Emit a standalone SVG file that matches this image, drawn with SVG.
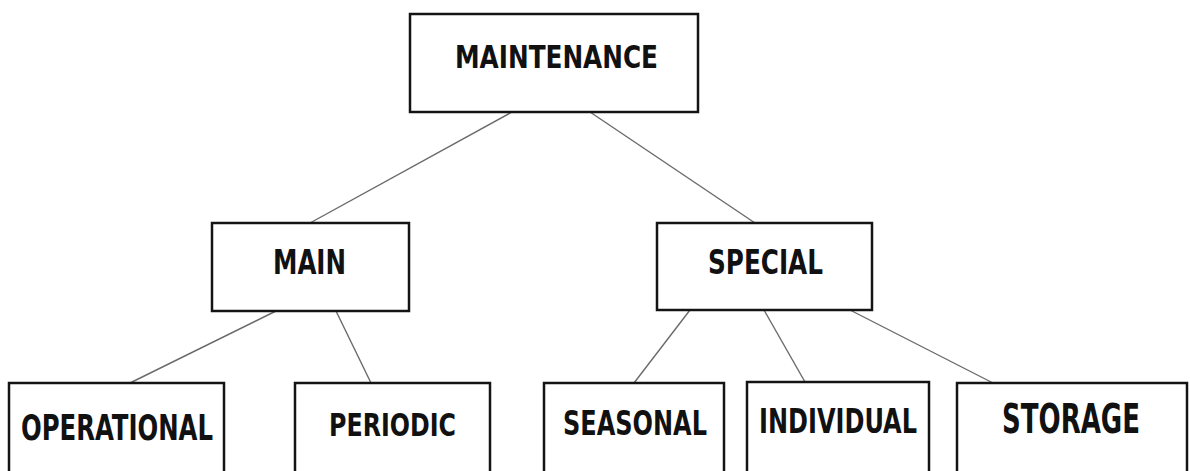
<svg xmlns="http://www.w3.org/2000/svg" width="1190" height="471" viewBox="0 0 1190 471">
  <style>
    .box { fill: #ffffff; stroke: #141414; stroke-width: 2.5; }
    .lbl { font-family: "Liberation Sans Narrow", "DejaVu Sans Condensed", "Liberation Sans", sans-serif; font-weight: bold; fill: #111111; text-anchor: middle; }
    .link { stroke: #6a6a6a; stroke-width: 1.4; fill: none; }
  </style>
  <rect width="1190" height="471" fill="#ffffff"/>

  <!-- connectors -->
  <g id="connectors">
    <line class="link" x1="512" y1="112" x2="310" y2="223"/>
    <line class="link" x1="590" y1="112" x2="755" y2="223"/>
    <line class="link" x1="276" y1="311" x2="130" y2="383"/>
    <line class="link" x1="336" y1="311" x2="371" y2="383"/>
    <line class="link" x1="690" y1="310" x2="634" y2="383"/>
    <line class="link" x1="764" y1="310" x2="805" y2="382"/>
    <line class="link" x1="850" y1="310" x2="993" y2="383"/>
  </g>

  <!-- top level -->
  <g id="maintenance">
    <rect class="box" x="410" y="14" width="288" height="98"/>
    <text class="lbl" x="556.5" y="68" font-size="32" textLength="203" lengthAdjust="spacingAndGlyphs">MAINTENANCE</text>
  </g>

  <!-- second level -->
  <g id="main">
    <rect class="box" x="212" y="223" width="197" height="88"/>
    <text class="lbl" x="309.5" y="274" font-size="34" textLength="73" lengthAdjust="spacingAndGlyphs">MAIN</text>
  </g>
  <g id="special">
    <rect class="box" x="657" y="223" width="215" height="87"/>
    <text class="lbl" x="765.5" y="274" font-size="34" textLength="115" lengthAdjust="spacingAndGlyphs">SPECIAL</text>
  </g>

  <!-- third level -->
  <g id="operational">
    <rect class="box" x="9" y="383" width="215" height="100"/>
    <text class="lbl" x="117" y="440" font-size="36" textLength="192" lengthAdjust="spacingAndGlyphs">OPERATIONAL</text>
  </g>
  <g id="periodic">
    <rect class="box" x="295" y="383" width="195" height="100"/>
    <text class="lbl" x="392.5" y="436" font-size="32" textLength="127" lengthAdjust="spacingAndGlyphs">PERIODIC</text>
  </g>
  <g id="seasonal">
    <rect class="box" x="544" y="383" width="180" height="100"/>
    <text class="lbl" x="635" y="435" font-size="34" textLength="144" lengthAdjust="spacingAndGlyphs">SEASONAL</text>
  </g>
  <g id="individual">
    <rect class="box" x="747" y="382" width="182" height="100"/>
    <text class="lbl" x="838" y="433" font-size="34" textLength="158" lengthAdjust="spacingAndGlyphs">INDIVIDUAL</text>
  </g>
  <g id="storage">
    <rect class="box" x="957" y="383" width="230" height="100"/>
    <text class="lbl" x="1071" y="433" font-size="36" textLength="138" lengthAdjust="spacingAndGlyphs" transform="translate(1071 433) scale(1 1.14) translate(-1071 -433)">STORAGE</text>
  </g>
</svg>
